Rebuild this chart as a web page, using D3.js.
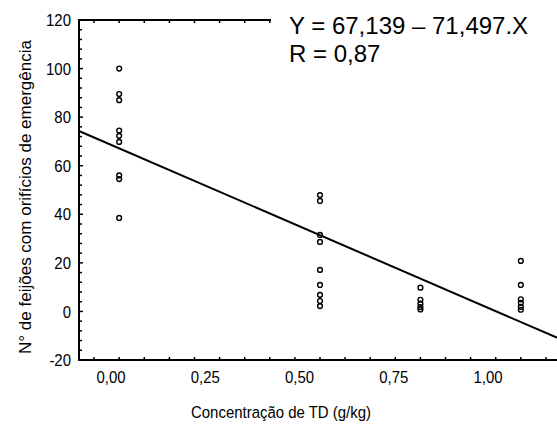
<!DOCTYPE html>
<html>
<head>
  <script src="https://d3js.org/d3.v7.min.js"></script>
  <style>
    body { margin: 0; background: #fff; }
    svg { display: block; }
    text { font-family: "Liberation Sans", Arial, sans-serif; fill: #000; }
  </style>
</head>
<body>
  <svg id="chart" width="557" height="427"></svg>
  <script>
    // Observed points, grouped by dose
    const doses = [0, 0.5, 0.75, 1.0];
    const countsAt0 = [100, 89.5, 87, 74.5, 72.3, 69.8, 56, 54.5, 38.5];
    const countsAt050 = [47.9, 45.5, 31.5, 28.6, 17.1, 10.9, 6.8, 4.3, 2.2];
    const countsAt075 = [9.8, 4.8, 3.2, 1.8, 0.8];
    const countsAt100 = [20.8, 10.9, 5.0, 3.5, 1.9, 0.7];
    const counts = [countsAt0, countsAt050, countsAt075, countsAt100];

    // Fitted line Y = a - b.X
    const intercept = 67.139;
    const slope = -71.497;
    const eqText = ['Y = 67,139 \u2013 71,497.X', 'R = 0,87'];

    const xTicks = [0, 0.25, 0.5, 0.75, 1.0];
    const yTicks = [-20, 0, 20, 40, 60, 80, 100, 120];

    const svg = d3.select('#chart');

    const x = d3.scaleLinear().domain([-0.1, 1.1]).range([79, 561]);
    const y = d3.scaleLinear().domain([-20, 120]).range([360, 20]);
    // tick labels sit a little off the tick marks in the original
    const xLab = d3.scaleLinear().domain([0, 1]).range([111, 488]);

    const fmt = v => d3.format('.2f')(v).replace('.', ',');
    const narrow = 0.88; // the original labels use a condensed face

    // minor ticks
    const xMinor = d3.range(-0.0625, 1.1, 0.0625);
    const yMinor = d3.range(-20, 121, 4);

    const g = svg.append('g');

    // frame
    g.append('line').attr('x1', 79).attr('x2', 79).attr('y1', y(120)).attr('y2', y(-20))
      .attr('stroke', '#000').attr('stroke-width', 2);
    g.append('line').attr('x1', 78).attr('x2', 561).attr('y1', y(-20)).attr('y2', y(-20))
      .attr('stroke', '#000').attr('stroke-width', 2);
    g.append('line').attr('x1', 78).attr('x2', 561).attr('y1', y(120)).attr('y2', y(120))
      .attr('stroke', '#000').attr('stroke-width', 2);

    // bottom / top ticks (inward)
    g.selectAll('.xb').data(xMinor).join('line')
      .attr('x1', d => x(d)).attr('x2', d => x(d))
      .attr('y1', y(-20)).attr('y2', y(-20) - 3)
      .attr('stroke', '#000').attr('stroke-width', 1.5);
    g.selectAll('.xt').data(xMinor).join('line')
      .attr('x1', d => x(d)).attr('x2', d => x(d))
      .attr('y1', y(120)).attr('y2', y(120) + 3)
      .attr('stroke', '#000').attr('stroke-width', 1.5);

    // left ticks (inward)
    g.selectAll('.yl').data(yMinor).join('line')
      .attr('x1', 79).attr('x2', d => (d % 20 === 0) ? 83 : 82)
      .attr('y1', d => y(d)).attr('y2', d => y(d))
      .attr('stroke', '#000').attr('stroke-width', 1.5);

    // tick labels
    g.selectAll('.ylab').data(yTicks).join('text')
      .attr('transform', d => `translate(71,${y(d)}) scale(${narrow},1)`)
      .attr('dy', '0.36em')
      .attr('text-anchor', 'end').attr('font-size', 17)
      .text(d => d);
    g.selectAll('.xlab').data(xTicks).join('text')
      .attr('transform', d => `translate(${xLab(d)},383) scale(${narrow},1)`)
      .attr('text-anchor', 'middle').attr('font-size', 17)
      .text(fmt);

    // axis titles
    svg.append('text')
      .attr('transform', `translate(281,418) scale(${narrow},1)`)
      .attr('text-anchor', 'middle').attr('font-size', 17)
      .text('Concentração de TD (g/kg)');
    svg.append('text')
      .attr('transform', 'translate(31,197) rotate(-90)')
      .attr('text-anchor', 'middle').attr('font-size', 17)
      .text('N° de feijões com orifícios de emergência');

    // regression line
    g.append('line')
      .attr('x1', x(-0.1)).attr('y1', y(intercept + slope * -0.1))
      .attr('x2', x(1.1)).attr('y2', y(intercept + slope * 1.1))
      .attr('stroke', '#000').attr('stroke-width', 2);

    // points
    const pts = doses.flatMap((d, i) => counts[i].map(v => ({ d, v })));
    g.selectAll('circle').data(pts).join('circle')
      .attr('cx', p => x(p.d)).attr('cy', p => y(p.v)).attr('r', 2.4)
      .attr('fill', 'none').attr('stroke', '#000').attr('stroke-width', 1.4);

    // equation box
    svg.append('rect').attr('x', 271).attr('y', 0).attr('width', 290).attr('height', 75)
      .attr('fill', '#fff');
    svg.selectAll('.eq').data(eqText).join('text')
      .attr('x', 289).attr('y', (d, i) => 34 + i * 28)
      .attr('font-size', 24)
      .text(d => d);
  </script>
</body>
</html>
